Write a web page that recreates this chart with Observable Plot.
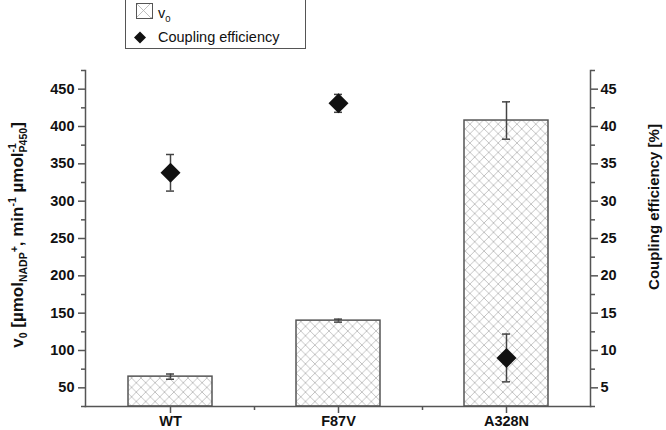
<!DOCTYPE html>
<html>
<head>
<meta charset="utf-8">
<script src="https://cdn.jsdelivr.net/npm/d3@7"></script>
<script src="https://cdn.jsdelivr.net/npm/@observablehq/plot@0.6"></script>
<style>
  body { margin: 0; background: white; font-family: "Liberation Sans", Arial, sans-serif; }
  #legendwrap { position: relative; height: 49px; width: 666px; }
  #legend { position: absolute; left: 125px; top: -1px; width: 179px; height: 48px; border: 1px solid #555; background: white; }
</style>
</head>
<body>
<div id="legendwrap">
  <div id="legend">
    <svg width="179" height="48" style="position:absolute;left:0;top:0">
      <defs>
        <pattern id="lghatch" patternUnits="userSpaceOnUse" width="15" height="15" x="10" y="3">
          <path d="M0,0L15,15M15,0L0,15" stroke="#b0b0b0" stroke-width="0.8"/>
        </pattern>
      </defs>
      <rect x="10.5" y="3.5" width="16" height="15" fill="url(#lghatch)" stroke="#555" stroke-width="1"/>
      <path d="M14,31.5L20,37.5L14,43.5L8,37.5Z" fill="#111"/>
      <text x="32" y="18" font-size="14.5" fill="#111">v<tspan font-size="9.5" dy="4">0</tspan></text>
      <text x="32" y="42" font-size="14.5" fill="#111">Coupling efficiency</text>
    </svg>
  </div>
</div>
<div id="chart"></div>
<script>
// ---- data ----
const categories = ["WT", "F87V", "A328N"];
const v0 = [65, 140, 408];
const v0Err = [3.5, 2, 25];
const coupling = [33.8, 43.1, 9.0];
const couplingErr = [2.45, 1.2, 3.2];
const leftTicks = [50, 100, 150, 200, 250, 300, 350, 400, 450];
const leftMinor = [25, 75, 125, 175, 225, 275, 325, 375, 425, 475];
const rightTicks = [5, 10, 15, 20, 25, 30, 35, 40, 45];
const rightMinor = [2.5, 7.5, 12.5, 17.5, 22.5, 27.5, 32.5, 37.5, 42.5, 47.5];
const couplingScale = 10; // right axis value * 10 = left axis value

const data = categories.map((c, i) => ({
  cat: c, v0: v0[i], v0e: v0Err[i], ce: coupling[i], cee: couplingErr[i]
}));

const axisColor = "#555";
const errColor = "#444";
const capInset = 38;

const chart = Plot.plot({
  width: 666,
  height: 381,
  marginLeft: 85,
  marginRight: 76,
  marginTop: 21,
  marginBottom: 24,
  style: {
    fontFamily: "'Liberation Sans', Arial, sans-serif",
    fontSize: "14.5px",
    fontWeight: "bold",
    color: "#111",
    background: "white",
    overflow: "visible"
  },
  x: { domain: categories, paddingInner: 0.5, paddingOuter: 0.25, label: null },
  y: { domain: [25, 475], label: null },
  marks: [
    Plot.barY(data, { x: "cat", y1: 25, y2: "v0", fill: "url(#xhatch)", stroke: axisColor, strokeWidth: 1.5 }),
    Plot.ruleX(data, { x: "cat", y1: d => d.v0 - d.v0e, y2: d => d.v0 + d.v0e, stroke: errColor, strokeWidth: 1.5 }),
    Plot.tickY(data, { x: "cat", y: d => d.v0 + d.v0e, insetLeft: capInset, insetRight: capInset, stroke: errColor, strokeWidth: 1.5 }),
    Plot.tickY(data, { x: "cat", y: d => d.v0 - d.v0e, insetLeft: capInset, insetRight: capInset, stroke: errColor, strokeWidth: 1.5 }),
    Plot.ruleX(data, { x: "cat", y1: d => (d.ce - d.cee) * couplingScale, y2: d => (d.ce + d.cee) * couplingScale, stroke: errColor, strokeWidth: 1.5 }),
    Plot.tickY(data, { x: "cat", y: d => (d.ce + d.cee) * couplingScale, insetLeft: capInset, insetRight: capInset, stroke: errColor, strokeWidth: 1.5 }),
    Plot.tickY(data, { x: "cat", y: d => (d.ce - d.cee) * couplingScale, insetLeft: capInset, insetRight: capInset, stroke: errColor, strokeWidth: 1.5 }),
    Plot.dot(data, { x: "cat", y: d => d.ce * couplingScale, symbol: "diamond2", r: 9, fill: "#111", stroke: "none" }),
    // axes
    Plot.frame({ anchor: "left", stroke: axisColor, strokeWidth: 1.5 }),
    Plot.frame({ anchor: "right", stroke: axisColor, strokeWidth: 1.5 }),
    Plot.frame({ anchor: "bottom", stroke: axisColor, strokeWidth: 1.5 }),
    Plot.axisY(leftTicks, { anchor: "left", tickSize: 7, tickPadding: 4, stroke: axisColor, strokeWidth: 1.5, fill: "#111", label: null }),
    Plot.axisY(leftMinor, { anchor: "left", tickSize: 4, tickFormat: () => "", stroke: axisColor, strokeWidth: 1.5, label: null }),
    Plot.axisY(rightTicks.map(d => d * couplingScale), { anchor: "right", tickSize: 7, tickPadding: 3, tickFormat: d => d / couplingScale, stroke: axisColor, strokeWidth: 1.5, fill: "#111", label: null }),
    Plot.axisY(rightMinor.map(d => d * couplingScale), { anchor: "right", tickSize: 4, tickFormat: () => "", stroke: axisColor, strokeWidth: 1.5, label: null }),
    Plot.axisX({ anchor: "bottom", tickSize: 7, tickPadding: 2, stroke: axisColor, strokeWidth: 1.5, fill: "#111", label: null }),
    Plot.axisX(categories.slice(0, 2), { anchor: "bottom", tickSize: 4, dx: 84, tickFormat: () => "", stroke: axisColor, strokeWidth: 1.5, label: null })
  ]
});

const svg = d3.select(chart);
// hatch pattern for bars
const defs = svg.insert("defs", ":first-child");
const pat = defs.append("pattern").attr("id", "xhatch").attr("patternUnits", "userSpaceOnUse")
  .attr("width", 9.4).attr("height", 9.4);
pat.append("path").attr("d", "M0,0L9.4,9.4M9.4,0L0,9.4M-1,8.4L1,10.4M8.4,-1L10.4,1")
  .attr("stroke", "#b5b5b5").attr("stroke-width", 0.8).attr("fill", "none");

// left axis title with sub/superscripts
const lt = svg.append("text")
  .attr("transform", "translate(23,186) rotate(-90)")
  .attr("text-anchor", "middle")
  .attr("font-size", 17).attr("font-weight", "bold").attr("fill", "#111");
lt.append("tspan").text("v");
lt.append("tspan").attr("font-size", 10.5).attr("dy", 4).text("0");
lt.append("tspan").attr("dy", -4).text(" [µmol");
lt.append("tspan").attr("font-size", 10.5).attr("dy", 4).text("NADP");
lt.append("tspan").attr("font-size", 10.5).attr("dy", -9).text("+");
lt.append("tspan").attr("dy", 5).text(", min");
lt.append("tspan").attr("font-size", 10.5).attr("dy", -7).text("-1");
lt.append("tspan").attr("dy", 7).text(" µmol");
lt.append("tspan").attr("font-size", 10.5).attr("dy", -7).text("-1");
lt.append("tspan").attr("font-size", 10.5).attr("dx", -9.3).attr("dy", 11).text("P450");
lt.append("tspan").attr("dy", -4).text("]");

// right axis title
svg.append("text")
  .attr("transform", "translate(659,158) rotate(-90)")
  .attr("text-anchor", "middle")
  .attr("font-size", 15).attr("font-weight", "bold").attr("fill", "#111")
  .text("Coupling efficiency [%]");

document.getElementById("chart").appendChild(chart);
</script>
</body>
</html>
